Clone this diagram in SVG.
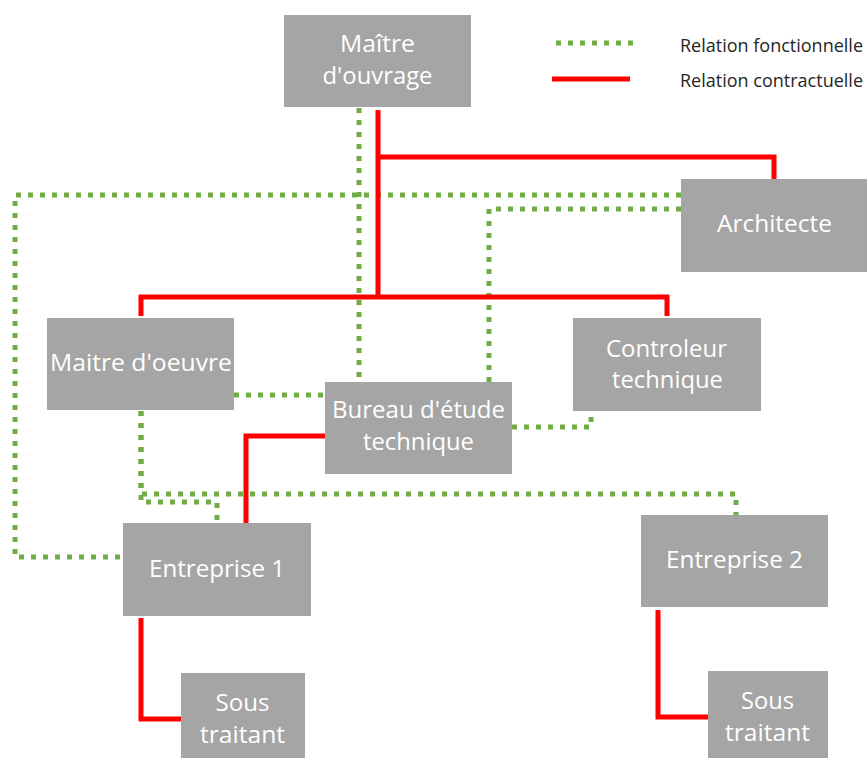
<svg xmlns="http://www.w3.org/2000/svg" width="867" height="758" viewBox="0 0 867 758">
<style>
.box{fill:#a5a5a5;}
.lbl{font-family:"Open Sans","Noto Sans",sans-serif;font-size:23px;fill:#ffffff;text-anchor:middle;}
.leg{font-family:"Open Sans","Noto Sans",sans-serif;font-size:18px;fill:#262626;}
.fn{fill:none;stroke:#70ad47;stroke-width:5;stroke-dasharray:5 7;}
.ct{fill:none;stroke:#ff0000;stroke-width:5;}
</style>
<rect width="867" height="758" fill="#ffffff"/>
<g id="legend">
<line class="fn" x1="556" y1="43" x2="636" y2="43"/>
<line class="ct" x1="552" y1="79" x2="630" y2="79"/>
<text class="leg" x="680" y="52" textLength="183" lengthAdjust="spacingAndGlyphs">Relation fonctionnelle</text>
<text class="leg" x="680" y="87" textLength="183" lengthAdjust="spacingAndGlyphs">Relation contractuelle</text>
</g>
<g id="connectors">
<path class="fn" d="M359,108 V382"/>
<path class="fn" d="M681,195 H15 V557 H123"/>
<path class="fn" d="M681,209 H489 V382"/>
<path class="fn" d="M234,395 H325"/>
<path class="fn" d="M512,427 H591 V411"/>
<path class="fn" d="M141,411 V494 H736 V515"/>
<path class="fn" d="M141,411 V502 H217 V523"/>
<path class="ct" d="M378,110 V297"/>
<path class="ct" d="M378,157 H774 V179"/>
<path class="ct" d="M141,316 V297 H667 V316"/>
<path class="ct" d="M325,436 H246 V523"/>
<path class="ct" d="M141,618 V719 H181"/>
<path class="ct" d="M658,610 V717 H708"/>
</g>
<g id="maitre-ouvrage">
<rect class="box" x="284" y="15" width="187" height="92"/>
<text class="lbl" x="377.5" y="52" textLength="75" lengthAdjust="spacingAndGlyphs">Maître</text>
<text class="lbl" x="377.5" y="84" textLength="110" lengthAdjust="spacingAndGlyphs">d'ouvrage</text>
</g>
<g id="architecte">
<rect class="box" x="681" y="179" width="186" height="93"/>
<text class="lbl" x="774.5" y="232" textLength="115" lengthAdjust="spacingAndGlyphs">Architecte</text>
</g>
<g id="maitre-oeuvre">
<rect class="box" x="47" y="318" width="187" height="92"/>
<text class="lbl" x="141" y="371" textLength="182" lengthAdjust="spacingAndGlyphs">Maitre d'oeuvre</text>
</g>
<g id="controleur">
<rect class="box" x="573" y="318" width="188" height="93"/>
<text class="lbl" x="666.5" y="357" textLength="121" lengthAdjust="spacingAndGlyphs">Controleur</text>
<text class="lbl" x="667.5" y="388" textLength="111" lengthAdjust="spacingAndGlyphs">technique</text>
</g>
<g id="bureau">
<rect class="box" x="325" y="382" width="187" height="92"/>
<text class="lbl" x="418.5" y="418" textLength="173" lengthAdjust="spacingAndGlyphs">Bureau d'étude</text>
<text class="lbl" x="418.5" y="450" textLength="111" lengthAdjust="spacingAndGlyphs">technique</text>
</g>
<g id="entreprise1">
<rect class="box" x="123" y="523" width="188" height="93"/>
<text class="lbl" x="217" y="577" textLength="136" lengthAdjust="spacingAndGlyphs">Entreprise 1</text>
</g>
<g id="entreprise2">
<rect class="box" x="641" y="515" width="187" height="92"/>
<text class="lbl" x="734.5" y="568" textLength="137" lengthAdjust="spacingAndGlyphs">Entreprise 2</text>
</g>
<g id="sous-traitant1">
<rect class="box" x="181" y="673" width="124" height="85"/>
<text class="lbl" x="242.5" y="711" textLength="54" lengthAdjust="spacingAndGlyphs">Sous</text>
<text class="lbl" x="242.5" y="743" textLength="85" lengthAdjust="spacingAndGlyphs">traitant</text>
</g>
<g id="sous-traitant2">
<rect class="box" x="708" y="671" width="120" height="87"/>
<text class="lbl" x="767.5" y="709" textLength="53" lengthAdjust="spacingAndGlyphs">Sous</text>
<text class="lbl" x="767.5" y="741" textLength="85" lengthAdjust="spacingAndGlyphs">traitant</text>
</g>
</svg>
